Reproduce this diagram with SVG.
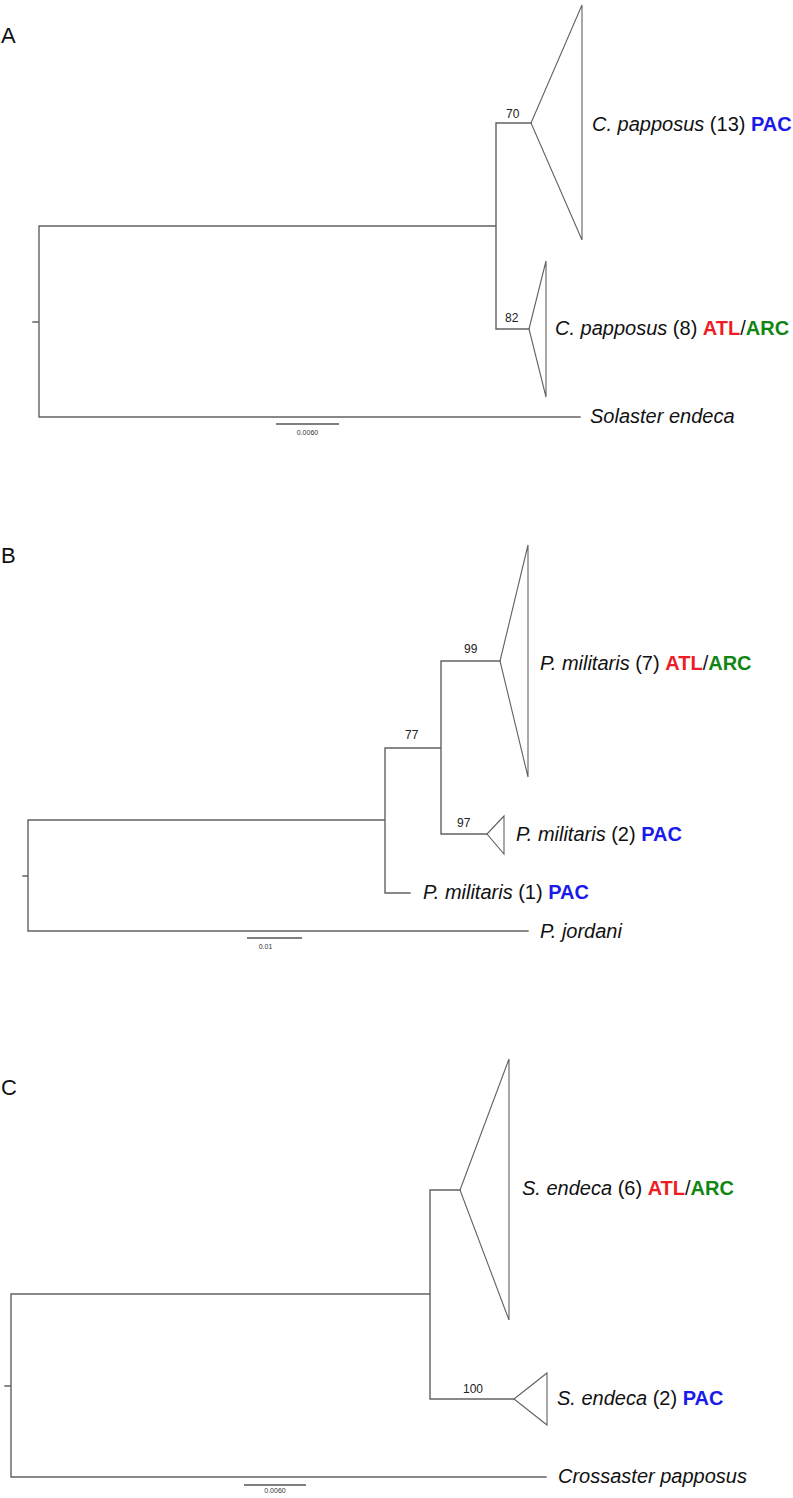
<svg xmlns="http://www.w3.org/2000/svg" width="793" height="1498" viewBox="0 0 793 1498">
<style>
.br{fill:none;stroke:#626262;stroke-width:1.4;stroke-linecap:square}
.tri{fill:none;stroke:#626262;stroke-width:1.1;stroke-linejoin:miter}
.sb{fill:none;stroke:#555;stroke-width:1.4}
.t{font-family:"Liberation Sans",Arial,sans-serif;font-size:20px;fill:#111}
.i{font-style:italic}
.bd{font-weight:bold}
.pac{fill:#1a1aeb}
.atl{fill:#ee1c24}
.arc{fill:#128612}
.bs{font-family:"Liberation Sans",Arial,sans-serif;font-size:12px;fill:#222}
.sc{font-family:"Liberation Sans",Arial,sans-serif;font-size:7px;fill:#333}
.pl{font-family:"Liberation Sans",Arial,sans-serif;font-size:22px;fill:#111}
</style>
<rect width="793" height="1498" fill="#fff"/>

<!-- Panel A -->
<g id="panelA">
<text class="pl" x="1" y="43">A</text>
<g id="connectorsA">
<path class="br" d="M33,322H39M39,226V417M39,226H496M496,123V329M496,123H531M496,329H529M39,417H580"/>
</g>
<g id="A_pac">
<polygon class="tri" points="531,123 582,5 582,240"/>
<text class="bs" x="506" y="118">70</text>
<text class="t" x="592" y="131"><tspan class="i">C. papposus</tspan> (13) <tspan class="bd pac">PAC</tspan></text>
</g>
<g id="A_atlarc">
<polygon class="tri" points="529,329 546,261 546,397"/>
<text class="bs" x="505" y="322">82</text>
<text class="t" x="555" y="335"><tspan class="i">C. papposus</tspan> (8) <tspan class="bd atl">ATL</tspan>/<tspan class="bd arc">ARC</tspan></text>
</g>
<g id="A_solaster">
<text class="t i" x="590" y="423">Solaster endeca</text>
</g>
<g id="A_scale">
<path class="sb" d="M276,424H339"/>
<text class="sc" x="307.5" y="435" text-anchor="middle">0.0060</text>
</g>
</g>

<!-- Panel B -->
<g id="panelB">
<text class="pl" x="1" y="563">B</text>
<g id="connectorsB">
<path class="br" d="M23,876H28M28,820V931M28,820H385M385,748V893M385,893H410M385,748H441M441,661V834M441,661H500M441,834H487M28,931H528"/>
</g>
<g id="B_atlarc">
<polygon class="tri" points="500,661 528,545 528,777"/>
<text class="bs" x="464" y="653">99</text>
<text class="t" x="540" y="670"><tspan class="i">P. militaris</tspan> (7) <tspan class="bd atl">ATL</tspan>/<tspan class="bd arc">ARC</tspan></text>
</g>
<g id="B_pac2">
<polygon class="tri" points="487,834 504,816 504,854"/>
<text class="bs" x="457" y="827">97</text>
<text class="t" x="516" y="841"><tspan class="i">P. militaris</tspan> (2) <tspan class="bd pac">PAC</tspan></text>
</g>
<g id="B_node77">
<text class="bs" x="405" y="739">77</text>
</g>
<g id="B_pac1">
<text class="t" x="423" y="899"><tspan class="i">P. militaris</tspan> (1) <tspan class="bd pac">PAC</tspan></text>
</g>
<g id="B_jordani">
<text class="t i" x="540" y="938">P. jordani</text>
</g>
<g id="B_scale">
<path class="sb" d="M247,938H302"/>
<text class="sc" x="265.5" y="949" text-anchor="middle">0.01</text>
</g>
</g>

<!-- Panel C -->
<g id="panelC">
<text class="pl" x="1" y="1095">C</text>
<g id="connectorsC">
<path class="br" d="M5,1386H11M11,1294V1477M11,1294H430M430,1190V1399M430,1190H460M430,1399H514M11,1477H546"/>
</g>
<g id="C_atlarc">
<polygon class="tri" points="460,1190 509,1059 509,1320"/>
<text class="t" x="522" y="1195"><tspan class="i">S. endeca</tspan> (6) <tspan class="bd atl">ATL</tspan>/<tspan class="bd arc">ARC</tspan></text>
</g>
<g id="C_pac">
<polygon class="tri" points="514,1399 547,1373 547,1425"/>
<text class="bs" x="463" y="1393">100</text>
<text class="t" x="557" y="1405"><tspan class="i">S. endeca</tspan> (2) <tspan class="bd pac">PAC</tspan></text>
</g>
<g id="C_crossaster">
<text class="t i" x="558" y="1483">Crossaster papposus</text>
</g>
<g id="C_scale">
<path class="sb" d="M244,1485H306"/>
<text class="sc" x="275" y="1493" text-anchor="middle">0.0060</text>
</g>
</g>
</svg>
